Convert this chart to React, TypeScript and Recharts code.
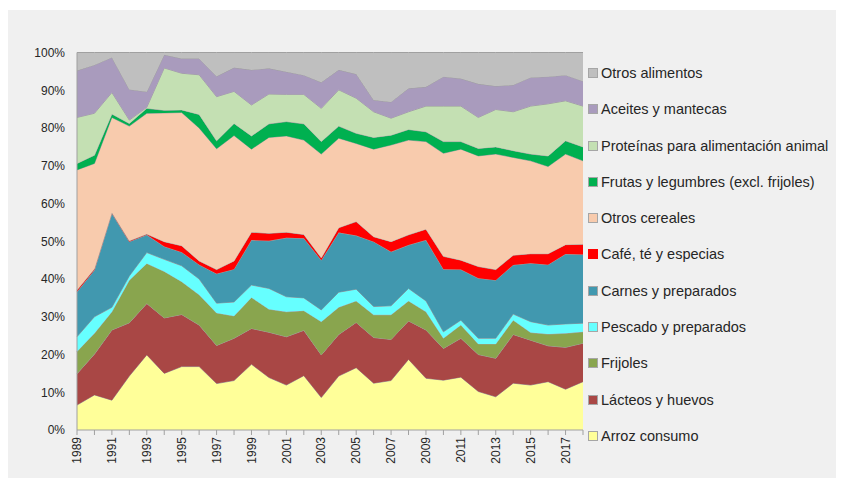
import React from 'react';
import { AreaChart, Area, XAxis, YAxis } from 'recharts';

const years = ['1989','1990','1991','1992','1993','1994','1995','1996','1997','1998','1999','2000','2001','2002','2003','2004','2005','2006','2007','2008','2009','2010','2011','2012','2013','2014','2015','2016','2017','2018'];

const arroz = [6.6,9.3,7.9,14.3,19.9,15.0,16.8,16.8,12.3,13.1,17.4,13.9,11.9,14.4,8.6,14.3,16.5,12.4,13.1,18.7,13.7,13.2,14.0,10.2,8.8,12.4,11.9,12.8,10.8,12.8];
const lacteos = [8.3,10.8,18.6,14.1,13.6,14.7,13.8,11.0,10.1,11.2,9.5,12.0,12.8,12.0,11.3,11.0,12.0,12.1,10.9,10.2,12.8,8.4,10.3,9.8,10.2,12.9,11.9,9.5,11.1,10.2];
const frijoles = [5.9,5.5,4.8,11.3,10.6,12.3,8.7,8.0,8.6,5.9,8.2,6.1,6.6,5.2,8.8,7.2,5.7,6.0,6.5,5.3,4.8,2.7,3.5,2.8,3.8,3.8,2.0,3.1,3.7,3.0];
const pescado = [3.9,4.4,1.2,1.1,2.9,3.2,4.2,4.2,2.6,3.7,3.3,5.5,4.0,3.4,3.1,4.0,3.1,2.2,2.4,3.3,2.9,1.7,1.3,1.5,1.5,1.6,2.9,2.4,2.5,2.3];
const carnes = [11.9,12.4,24.9,9.1,4.7,3.4,3.6,3.8,7.8,8.7,11.9,12.6,15.6,15.8,13.2,15.8,14.2,17.2,14.3,11.5,16.1,16.6,13.4,15.9,15.4,13.0,15.5,16.0,18.5,18.2];
const cafe = [0.5,0.3,0.2,0.2,0.2,1.3,1.7,1.0,1.1,2.2,2.1,2.0,1.5,1.0,0.6,1.3,3.7,1.3,2.7,2.7,2.9,3.4,2.5,3.1,2.8,2.6,2.5,2.9,2.5,2.7];
const otrosCereales = [31.8,27.9,25.2,30.4,32.0,34.1,35.3,35.2,32.0,33.2,22.0,25.4,25.5,25.0,27.5,23.7,20.7,23.2,25.6,25.1,23.2,27.3,29.4,29.3,30.6,25.9,24.6,23.1,24.0,22.1];
const frutas = [1.7,2.2,0.9,0.7,1.3,0.7,0.7,3.6,2.1,3.2,3.5,3.6,3.8,4.3,3.3,3.2,2.7,3.1,2.6,2.8,2.6,3.1,2.0,2.0,1.9,1.8,1.8,2.8,3.5,3.7];
const proteinas = [12.2,11.1,5.7,0.9,0.3,11.2,9.7,10.5,11.7,8.5,8.2,7.9,7.2,7.8,8.8,9.6,9.3,6.8,4.5,4.7,6.8,9.4,9.4,8.2,9.9,10.3,12.7,13.8,10.6,10.8];
const aceites = [12.4,12.8,9.3,8.1,4.1,3.5,3.9,4.3,5.4,6.3,9.3,6.8,6.0,5.1,6.9,5.3,6.4,3.1,4.3,6.2,5.1,7.8,7.3,8.9,6.2,7.1,7.6,7.2,6.8,6.6];
const otrosAlimentos = [4.8,3.3,1.3,9.8,10.4,0.6,1.6,1.6,6.3,4.0,4.6,4.2,5.1,6.0,7.9,4.6,5.7,12.6,13.1,9.5,9.1,6.4,6.9,8.3,8.9,8.6,6.6,6.4,6.0,7.6];

const yTicks = [0, 0.1, 0.2, 0.3, 0.4, 0.5, 0.6, 0.7, 0.8, 0.9, 1];

const series = [
  { key: 'arroz', name: 'Arroz consumo', color: '#FFFF99', values: arroz },
  { key: 'lacteos', name: 'Lácteos y huevos', color: '#A94745', values: lacteos },
  { key: 'frijoles', name: 'Frijoles', color: '#89A54E', values: frijoles },
  { key: 'pescado', name: 'Pescado y preparados', color: '#66FFFF', values: pescado },
  { key: 'carnes', name: 'Carnes y preparados', color: '#4198AF', values: carnes },
  { key: 'cafe', name: 'Café, té y especias', color: '#FF0000', values: cafe },
  { key: 'otrosCereales', name: 'Otros cereales', color: '#F8CBAD', values: otrosCereales },
  { key: 'frutas', name: 'Frutas y legumbres (excl. frijoles)', color: '#00B050', values: frutas },
  { key: 'proteinas', name: 'Proteínas para alimentación animal', color: '#C4E0B3', values: proteinas },
  { key: 'aceites', name: 'Aceites y mantecas', color: '#A99BBD', values: aceites },
  { key: 'otrosAlimentos', name: 'Otros alimentos', color: '#BFBFBF', values: otrosAlimentos },
];

const data = years.map((y, i) => {
  const row: any = { year: y };
  series.forEach((s) => { row[s.key] = s.values[i]; });
  return row;
});

const FONT = '"Liberation Sans", Arial, sans-serif';
const TEXT = '#262626';
const LINE = '#A0A0A0';

const XTick = (props: any) => {
  const { x, y, payload } = props;
  const yr = Number(payload.value);
  if (yr % 2 === 0) return <g />;
  return (
    <text x={x} y={y} transform={`rotate(-90 ${x} ${y})`} textAnchor="end" dy="0.35em"
      fontSize={12} fill={TEXT} fontFamily={FONT}>{payload.value}</text>
  );
};

export default function App() {
  const legendItems = [...series].reverse();
  return (
    <div style={{ position: 'absolute', left: 8, top: 10, width: 828, height: 468, background: '#F0F0F0' }}>
      <AreaChart width={828} height={468} data={data} stackOffset="expand"
        margin={{ top: 42.5, right: 253, left: 19, bottom: 8 }}>
        <XAxis dataKey="year" interval={0} tick={<XTick />} tickSize={5} tickMargin={2}
          axisLine={{ stroke: LINE }} tickLine={{ stroke: LINE }} height={40} />
        <XAxis xAxisId="top" orientation="top" dataKey="year" tick={false} tickLine={false}
          axisLine={{ stroke: LINE }} height={0} />
        <YAxis type="number" domain={[0, 1]} ticks={yTicks} interval={0}
          tickFormatter={(v: number) => `${Math.round(v * 100)}%`}
          tick={{ fontSize: 12, fill: TEXT, fontFamily: FONT }}
          tickLine={false} tickSize={0} tickMargin={12} axisLine={{ stroke: LINE }} width={50} />
        <YAxis yAxisId="right" orientation="right" type="number" domain={[0, 1]} tick={false}
          tickLine={false} axisLine={{ stroke: LINE }} width={0} />
        {series.map((s) => (
          <Area key={s.key} type="linear" dataKey={s.key} name={s.name} stackId="1"
            fill={s.color} fillOpacity={1} stroke={LINE} strokeWidth={1}
            isAnimationActive={false} dot={false} activeDot={false} />
        ))}
      </AreaChart>
      <div style={{ position: 'absolute', left: 580, top: 44.8, fontFamily: FONT, color: TEXT }}>
        {legendItems.map((s) => (
          <div key={s.key} style={{ height: 36.3, display: 'flex', alignItems: 'center', whiteSpace: 'nowrap' }}>
            <span style={{ display: 'inline-block', width: 8, height: 8, background: s.color,
              border: s.key === 'cafe' ? `1px solid ${s.color}` : '1px solid #A6A6A6', marginRight: 3 }} />
            <span style={{ fontSize: 14.5 }}>{s.name}</span>
          </div>
        ))}
      </div>
    </div>
  );
}
